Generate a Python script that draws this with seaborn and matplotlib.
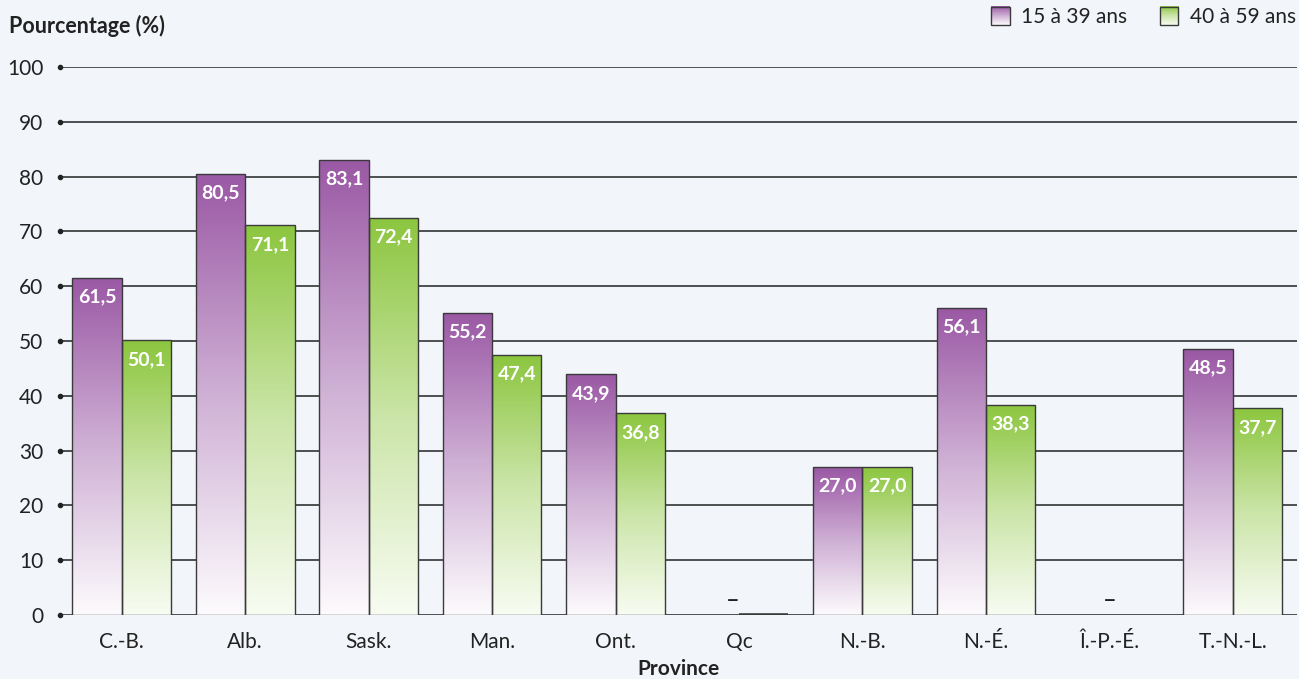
import numpy as np
import pandas as pd
import matplotlib
matplotlib.use("Agg")
import matplotlib.pyplot as plt
from matplotlib.colors import LinearSegmentedColormap
from matplotlib.patches import Patch, Rectangle
from matplotlib.legend_handler import HandlerBase
from matplotlib.image import BboxImage
from matplotlib.transforms import Bbox, TransformedBbox, blended_transform_factory
import seaborn as sns

# Data
provinces = ["C.-B.", "Alb.", "Sask.", "Man.", "Ont.", "Qc", "N.-B.", "N.-É.", "Î.-P.-É.", "T.-N.-L."]
age_groups = ["15 à 39 ans", "40 à 59 ans"]
young = [61.5, 80.5, 83.1, 55.2, 43.9, np.nan, 27.0, 56.1, np.nan, 48.5]
older = [50.1, 71.1, 72.4, 47.4, 36.8, 0.0, 27.0, 38.3, np.nan, 37.7]
y_ticks = list(range(0, 101, 10))

df = pd.DataFrame({
    "Province": provinces * 2,
    "Groupe": [age_groups[0]] * len(provinces) + [age_groups[1]] * len(provinces),
    "Pourcentage": young + older,
})

bg = "#f2f5fa"
edge = "#3a3a3a"
text_col = "#222222"
top_colors = {age_groups[0]: "#9a58a4", age_groups[1]: "#8cc63f"}
cmaps = {
    age_groups[0]: LinearSegmentedColormap.from_list("p", ["#fdfbfd", "#cfb0d5", "#9a58a4"]),
    age_groups[1]: LinearSegmentedColormap.from_list("g", ["#f8fcf2", "#cbe5a8", "#8cc63f"]),
}
grad = np.linspace(0, 1, 256).reshape(-1, 1)


class GradientHandler(HandlerBase):
    """Legend key drawn as a small vertical gradient square."""

    def __init__(self, cmap):
        super().__init__()
        self.cmap = cmap

    def create_artists(self, legend, orig_handle, xdescent, ydescent, width, height,
                       fontsize, trans):
        size = min(width, height)
        x0 = -xdescent + (width - size) / 2
        y0 = -ydescent + (height - size) / 2
        bbox = TransformedBbox(Bbox.from_bounds(x0, y0, size, size), trans)
        img = BboxImage(bbox, cmap=self.cmap, interpolation="bilinear", origin="lower")
        img.set_data(grad)
        rect = Rectangle((x0, y0), size, size, facecolor="none", edgecolor=edge,
                         linewidth=1.0, transform=trans)
        return [img, rect]


sns.set_theme(style="white")
plt.rcParams["font.family"] = ["Lato", "DejaVu Sans"]

fig = plt.figure(figsize=(12.99, 6.79), dpi=100, facecolor=bg)
ax = fig.add_axes([60 / 1299, 1 - 615 / 679, (1297 - 60) / 1299, (615 - 67) / 679])
ax.set_facecolor(bg)

sns.barplot(data=df, x="Province", y="Pourcentage", hue="Groupe", order=provinces,
            hue_order=age_groups, palette=top_colors, width=0.8, edgecolor=edge,
            linewidth=1.0, legend=False, ax=ax, zorder=3)

# Gradient fills, clipped to each bar
for container, grp in zip(ax.containers, age_groups):
    for bar in container:
        h = bar.get_height()
        if np.isnan(h):
            continue
        x0, w = bar.get_x(), bar.get_width()
        bar.set_facecolor("none")
        if h > 0:
            im = ax.imshow(grad, cmap=cmaps[grp], aspect="auto", origin="lower",
                           extent=(x0, x0 + w, 0, h), zorder=2.5, interpolation="bilinear")
            im.set_clip_path(bar)
            label = f"{h:.1f}".replace(".", ",")
            ax.annotate(label, (x0 + w / 2, h), xytext=(0, -7.5), textcoords="offset points",
                        ha="center", va="top", color="white", fontsize=14,
                        fontweight="bold", zorder=5)
        else:
            bar.set_linewidth(2.6)

# Missing values shown as dashes
for xpos in (5 - 0.05, 8):
    ax.text(xpos, 0.6, "–", ha="center", va="bottom", fontsize=17, color=text_col,
            family="DejaVu Sans", zorder=5)

ax.set_xlim(-0.5, 9.52)
ax.set_ylim(0, 100)
ax.set_yticks(y_ticks)
ax.set_yticklabels([str(t) for t in y_ticks], fontsize=15, color=text_col)
ax.tick_params(axis="y", length=0, pad=12)
ax.tick_params(axis="x", length=0, pad=12, labelsize=15, labelcolor=text_col)
for t in y_ticks:
    ax.axhline(t, color="#333333", linewidth=1.2, zorder=1)
trans = blended_transform_factory(ax.transAxes, ax.transData)
ax.scatter([0] * len(y_ticks), y_ticks, s=9, color=text_col, transform=trans,
           clip_on=False, zorder=4)
for s in ax.spines.values():
    s.set_visible(False)

ax.set_xlabel("Province", fontsize=15, fontweight="bold", color=text_col, labelpad=5)
ax.set_ylabel("")
fig.text(9 / 1299, 1 - 26 / 679, "Pourcentage (%)", fontsize=15.5, fontweight="bold",
         color=text_col, va="center", ha="left")

handles = [Patch(), Rectangle((0, 0), 1, 1)]
fig.legend(handles, age_groups, loc="upper right", bbox_to_anchor=(1.012, 1.018), ncol=2,
           frameon=False, fontsize=15, handlelength=1.0, handleheight=1.0,
           columnspacing=1.5, handletextpad=0.5, labelcolor=text_col,
           handler_map={handles[0]: GradientHandler(cmaps[age_groups[0]]),
                        handles[1]: GradientHandler(cmaps[age_groups[1]])})

fig.savefig("out.png", dpi=100, facecolor=bg)
